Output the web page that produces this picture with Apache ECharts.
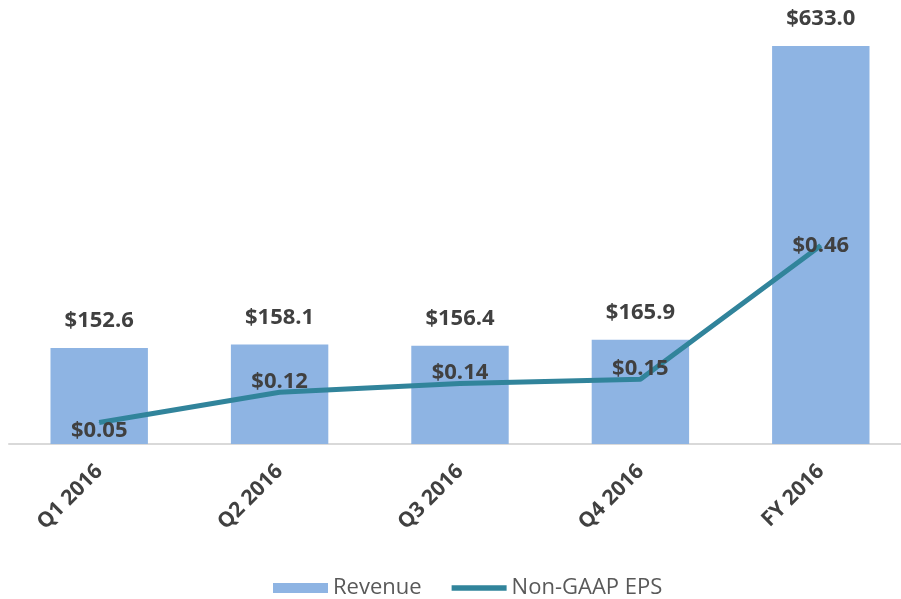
<!DOCTYPE html>
<html>
<head>
<meta charset="utf-8">
<script src="https://cdn.jsdelivr.net/npm/echarts@6/dist/echarts.min.js"></script>
<style>
  html, body { margin: 0; padding: 0; background: #fff; }
  #chart { width: 901px; height: 599px; }
</style>
</head>
<body>
<div id="chart"></div>
<script>
var categories = ['Q1 2016', 'Q2 2016', 'Q3 2016', 'Q4 2016', 'FY 2016'];
var revenue = [152.6, 158.1, 156.4, 165.9, 633.0];
var eps = [0.05, 0.12, 0.14, 0.15, 0.46];

var font = '"Open Sans", "Liberation Sans", sans-serif';

// EPS labels: first one sits below the point, the last one on it, the rest above
var epsData = eps.map(function (v, i) {
    var item = { value: v };
    if (i === 0) {
        item.label = { position: 'bottom', distance: -3 };
    } else if (i === eps.length - 1) {
        item.label = { position: 'inside' };
    }
    return item;
});

var chart = echarts.init(document.getElementById('chart'));
chart.setOption({
    backgroundColor: '#fff',
    animation: false,
    grid: { left: 9, width: 902, top: 4, height: 440, outerBoundsMode: 'none' },
    legend: {
        bottom: 0,
        left: 273,
        padding: 0,
        itemGap: 30,
        itemWidth: 55,
        itemHeight: 10,
        textStyle: { fontFamily: font, fontSize: 22, color: '#595959' },
        data: [
            { name: 'Revenue', icon: 'rect' },
            { name: 'Non-GAAP EPS', icon: 'path://M0,0 L60,0 L60,6 L0,6 Z' }
        ]
    },
    xAxis: {
        type: 'category',
        data: categories,
        axisTick: { show: false },
        axisLine: { lineStyle: { color: '#d9d9d9', width: 2 } },
        axisLabel: {
            rotate: 45,
            margin: 24,
            fontFamily: font,
            fontSize: 21,
            fontWeight: 'bold',
            color: '#404040'
        }
    },
    yAxis: [
        { type: 'value', min: 0, max: 700, show: false },
        { type: 'value', min: 0, max: 1.02, show: false }
    ],
    series: [
        {
            name: 'Revenue',
            type: 'bar',
            data: revenue,
            barWidth: '54%',
            itemStyle: { color: '#8eb4e3' },
            label: {
                show: true,
                position: 'top',
                distance: 16,
                fontFamily: font,
                fontSize: 22,
                fontWeight: 'bold',
                color: '#404040',
                formatter: function (p) { return '$' + p.value.toFixed(1); }
            }
        },
        {
            name: 'Non-GAAP EPS',
            type: 'line',
            yAxisIndex: 1,
            data: epsData,
            symbol: 'circle',
            symbolSize: 1,
            showSymbol: true,
            lineStyle: { color: '#31849b', width: 5 },
            itemStyle: { color: '#31849b' },
            label: {
                show: true,
                position: 'top',
                distance: -1,
                fontFamily: font,
                fontSize: 22,
                fontWeight: 'bold',
                color: '#404040',
                formatter: function (p) { return '$' + p.value.toFixed(2); }
            },
            labelLayout: { hideOverlap: false },
            z: 3
        }
    ]
});
</script>
</body>
</html>
